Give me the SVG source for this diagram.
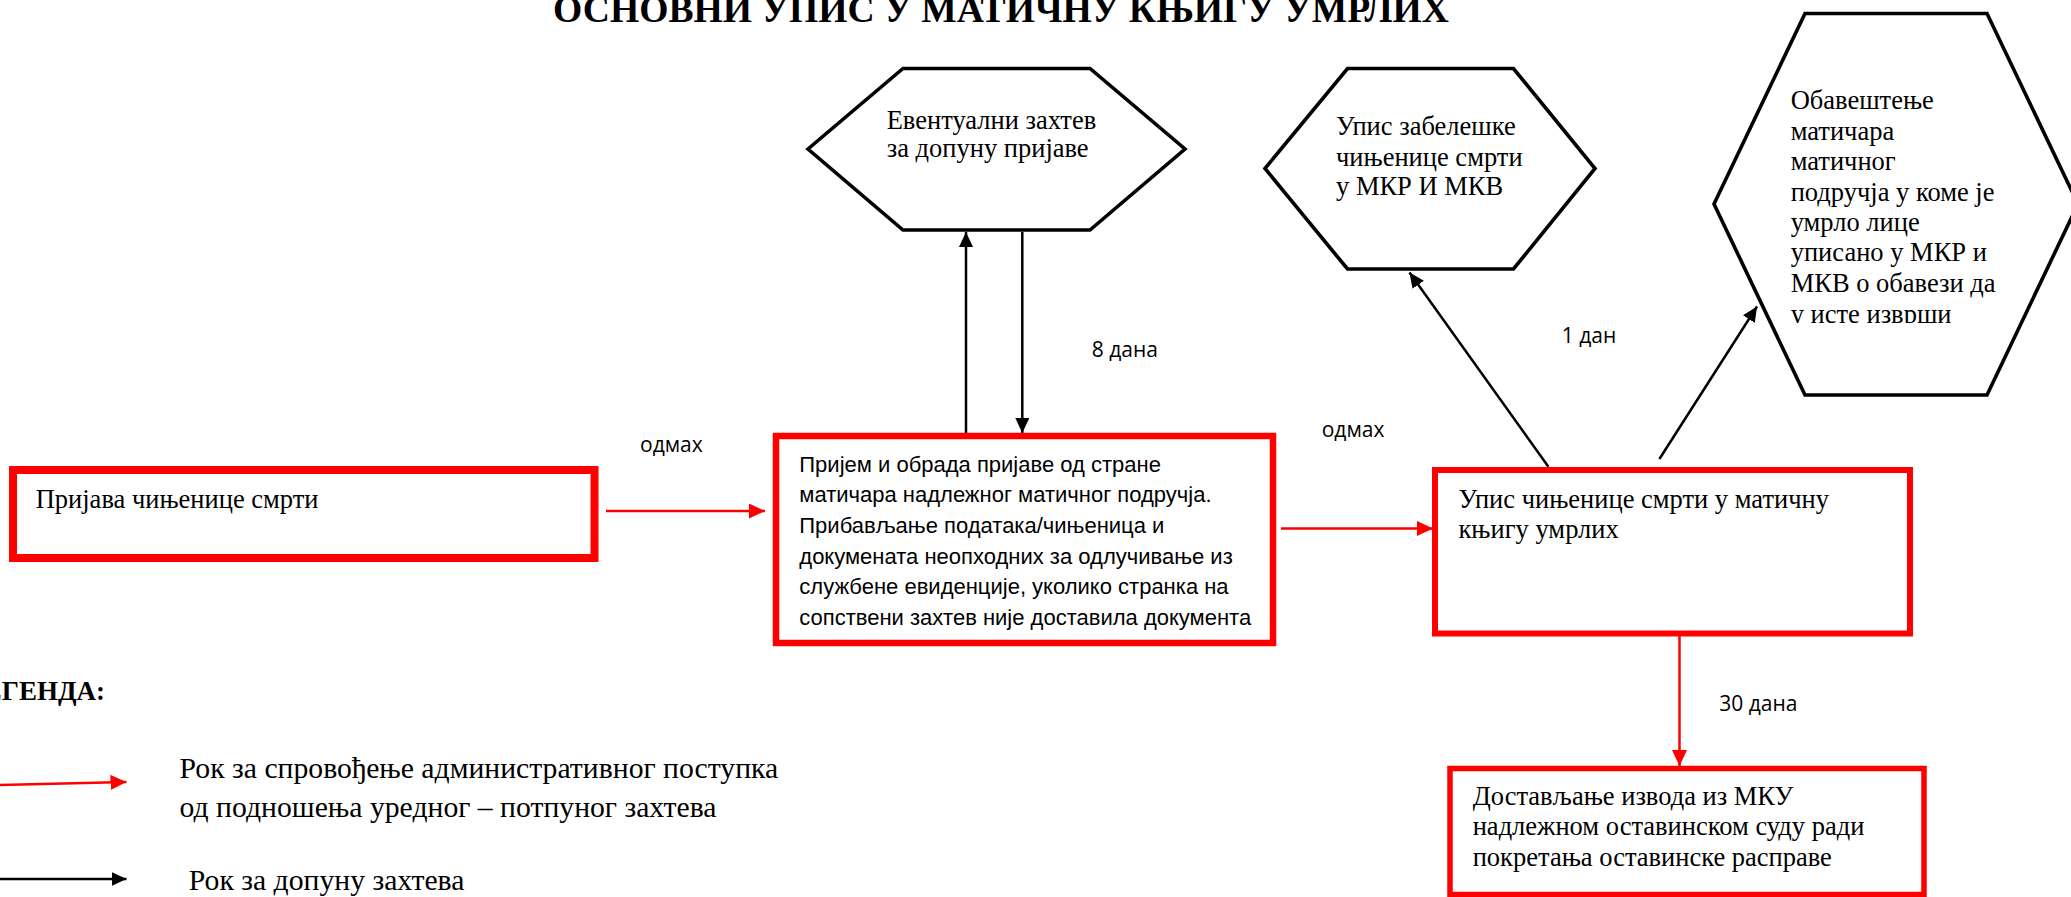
<svg xmlns="http://www.w3.org/2000/svg" width="2071" height="897" viewBox="0 0 2071 897">
<style>
.serif{font-family:"Liberation Serif","Times New Roman",serif;font-size:26.5px;fill:#000}
.sans{font-family:"Liberation Sans",Arial,sans-serif;font-size:22px;fill:#000}
.lbl{font-family:"Open Sans","Noto Sans",sans-serif;font-size:21px;fill:#000}
.leg{font-family:"Liberation Serif","Times New Roman",serif;font-size:29.7px;fill:#000}
.box{fill:#fff;stroke:#ff0000}
.hex{fill:#fff;stroke:#000;stroke-width:3.6;stroke-linejoin:miter}
.red{stroke:#ff0000;stroke-width:2.5;fill:none}
.blk{stroke:#000;stroke-width:2.5;fill:none}
</style>
<defs>
<marker id="ar" viewBox="0 0 16 15" refX="16" refY="7.5" markerWidth="16" markerHeight="15" markerUnits="userSpaceOnUse" orient="auto"><path d="M0,0 L16,7.5 L0,15 z" fill="#ff0000"/></marker>
<marker id="ab" viewBox="0 0 15 14" refX="15" refY="7" markerWidth="15" markerHeight="14" markerUnits="userSpaceOnUse" orient="auto"><path d="M0,0 L15,7 L0,14 z" fill="#000"/></marker>
<clipPath id="hex3clip"><rect x="1700" y="0" width="371" height="323"/></clipPath>
</defs>
<rect width="2071" height="897" fill="#fff"/>

<text id="title" x="553" y="21.5" font-family="Liberation Serif,Times New Roman,serif" font-weight="bold" font-size="37" textLength="896" lengthAdjust="spacingAndGlyphs">ОСНОВНИ УПИС У МАТИЧНУ КЊИГУ УМРЛИХ</text>

<g id="connectors">
<line class="red" x1="606" y1="511" x2="765" y2="511" marker-end="url(#ar)"/>
<line class="red" x1="1281" y1="528.5" x2="1433" y2="528.5" marker-end="url(#ar)"/>
<line class="red" x1="1679.5" y1="636" x2="1679.5" y2="766" marker-end="url(#ar)"/>
<line class="blk" x1="966" y1="433" x2="966" y2="232" marker-end="url(#ab)"/>
<line class="blk" x1="1022.3" y1="232" x2="1022.3" y2="433" marker-end="url(#ab)"/>
<line class="blk" stroke-width="2" x1="1548.4" y1="466.7" x2="1409.5" y2="272.5" marker-end="url(#ab)"/>
<line class="blk" stroke-width="2" x1="1659.4" y1="459" x2="1757" y2="306.5" marker-end="url(#ab)"/>
<text class="lbl" x="640" y="452">одмах</text>
<text class="lbl" x="1321.7" y="437">одмах</text>
<text class="lbl" x="1091.7" y="357.3">8 дана</text>
<text class="lbl" x="1561.7" y="343">1 дан</text>
<text class="lbl" x="1719.3" y="710.7">30 дана</text>
</g>

<g id="n1">
<rect class="box" x="13" y="470" width="581.5" height="88" stroke-width="8"/>
<text class="serif" x="35.7" y="508">Пријава чињенице смрти</text>
</g>

<g id="n2">
<rect class="box" x="776" y="436" width="497" height="207" stroke-width="6.5"/>
<text class="sans" x="799.3" y="471.7">Пријем и обрада пријаве од стране</text>
<text class="sans" x="799.3" y="502.3">матичара надлежног матичног подручја.</text>
<text class="sans" x="799.3" y="532.9">Прибављање података/чињеница и</text>
<text class="sans" x="799.3" y="563.5">докумената неопходних за одлучивање из</text>
<text class="sans" x="799.3" y="594.1">службене евиденције, уколико странка на</text>
<text class="sans" x="799.3" y="624.7">сопствени захтев није доставила документа</text>
</g>

<g id="n3">
<rect class="box" x="1435" y="470" width="475" height="163.5" stroke-width="6"/>
<text class="serif" x="1458.5" y="508">Упис чињенице смрти у матичну</text>
<text class="serif" x="1458.5" y="538">књигу умрлих</text>
</g>

<g id="n4">
<rect class="box" x="1450" y="768.5" width="474" height="126" stroke-width="5.5"/>
<text class="serif" x="1472.7" y="805" font-size="25.8">Достављање извода из МКУ</text>
<text class="serif" x="1472.7" y="835" font-size="25.8">надлежном оставинском суду ради</text>
<text class="serif" x="1472.7" y="866" font-size="25.8">покретања оставинске расправе</text>
</g>

<g id="h1">
<polygon class="hex" points="808,149 903,68.5 1090,68.5 1185,149 1090,230 903,230"/>
<text class="serif" x="886.7" y="129">Евентуални захтев</text>
<text class="serif" x="886.7" y="157.3">за допуну пријаве</text>
</g>

<g id="h2">
<polygon class="hex" points="1265,168.5 1347.5,68.5 1513.5,68.5 1595,168.5 1513.5,269 1347.5,269"/>
<text class="serif" x="1336" y="135">Упис забелешке</text>
<text class="serif" x="1336" y="166">чињенице смрти</text>
<text class="serif" x="1336" y="195">у МКР И МКВ</text>
</g>

<g id="h3">
<polygon class="hex" points="1714,204 1805,13.5 1987,13.5 2078,204 1987,395 1805,395"/>
<g clip-path="url(#hex3clip)">
<text class="serif" x="1790.7" y="109">Обавештење</text>
<text class="serif" x="1790.7" y="139.5">матичара</text>
<text class="serif" x="1790.7" y="170">матичног</text>
<text class="serif" x="1790.7" y="200.5">подручја у коме је</text>
<text class="serif" x="1790.7" y="231">умрло лице</text>
<text class="serif" x="1790.7" y="261">уписано у МКР и</text>
<text class="serif" x="1790.7" y="291.5">МКВ о обавези да</text>
<text class="serif" x="1790.7" y="322.5">у исте изврши</text>
</g>
</g>

<g id="legend">
<text x="105" y="700" text-anchor="end" font-family="Liberation Serif,Times New Roman,serif" font-weight="bold" font-size="27">ЛЕГЕНДА:</text>
<line class="red" stroke-width="2.8" x1="0" y1="785" x2="126.5" y2="782" marker-end="url(#ar)"/>
<text class="leg" x="179.6" y="778">Рок за спровођење административног поступка</text>
<text class="leg" x="179.6" y="817">од подношења уредног – потпуног захтева</text>
<line class="blk" stroke-width="3" x1="0" y1="879" x2="126.5" y2="879" marker-end="url(#ab)"/>
<text class="leg" x="188.8" y="890">Рок за допуну захтева</text>
</g>
</svg>
